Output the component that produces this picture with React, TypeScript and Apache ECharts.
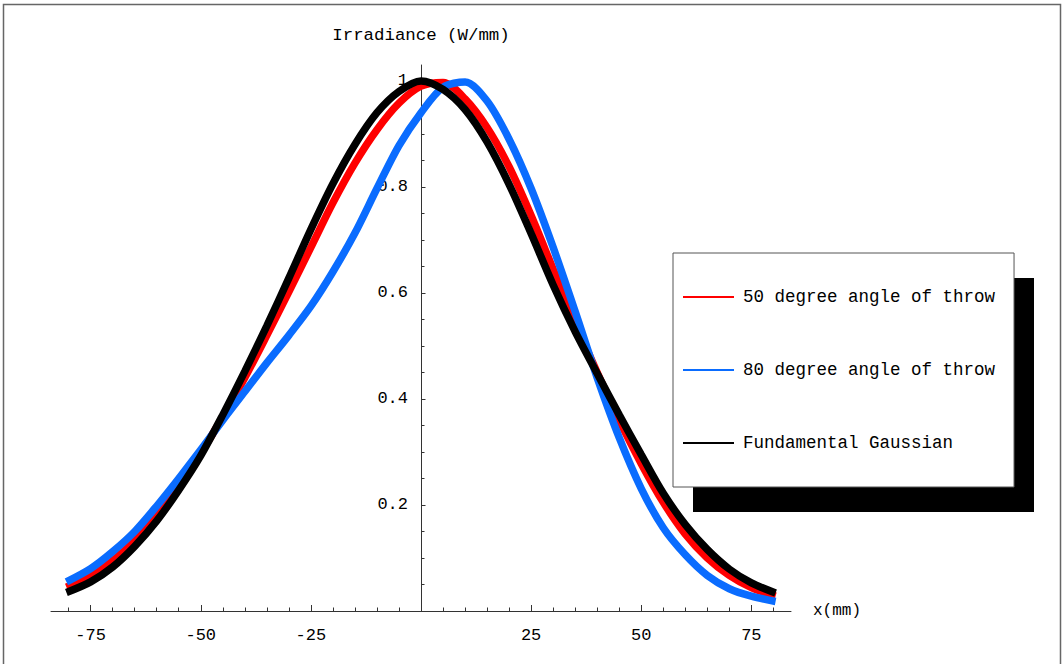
import React, { useEffect, useRef } from "react";
import * as echarts from "echarts";

// ---- data ----
const xs = [-80.5, -75, -70, -65, -60, -55, -50, -45, -40, -35, -30, -25, -20, -15, -10, -5, 0, 5, 10, 15, 20, 25, 30, 35, 40, 45, 50, 55, 60, 65, 70, 75, 80.5];
const yBlack = [0.035, 0.055, 0.083, 0.122, 0.17, 0.228, 0.293, 0.37, 0.452, 0.538, 0.628, 0.72, 0.806, 0.88, 0.94, 0.98, 1.0, 0.984, 0.946, 0.885, 0.805, 0.712, 0.615, 0.527, 0.448, 0.37, 0.295, 0.222, 0.163, 0.116, 0.079, 0.053, 0.034];
const yRed = [0.045, 0.066, 0.095, 0.133, 0.18, 0.236, 0.298, 0.366, 0.44, 0.52, 0.602, 0.686, 0.77, 0.845, 0.908, 0.958, 0.99, 0.997, 0.966, 0.912, 0.838, 0.746, 0.645, 0.545, 0.45, 0.36, 0.278, 0.205, 0.145, 0.1, 0.067, 0.044, 0.028];
const yBlue = [0.055, 0.08, 0.112, 0.15, 0.198, 0.25, 0.304, 0.36, 0.414, 0.468, 0.52, 0.575, 0.64, 0.713, 0.797, 0.878, 0.94, 0.988, 0.998, 0.962, 0.89, 0.797, 0.686, 0.565, 0.44, 0.327, 0.231, 0.157, 0.106, 0.067, 0.042, 0.028, 0.018];

const seriesNames = ["50 degree angle of throw", "80 degree angle of throw", "Fundamental Gaussian"];
const xTickLabels = [-75, -50, -25, 25, 50, 75];
const xMinorTicks = [-80, -70, -65, -60, -55, -45, -40, -35, -30, -20, -15, -10, -5, 5, 10, 15, 20, 30, 35, 40, 45, 55, 60, 65, 70, 80];
const yTickLabels = [0.2, 0.4, 0.6, 0.8, 1];
const yMinorTicks = [0.05, 0.1, 0.15, 0.25, 0.3, 0.35, 0.45, 0.5, 0.55, 0.65, 0.7, 0.75, 0.85, 0.9, 0.95];

const MONO = "'Liberation Mono', 'DejaVu Sans Mono', monospace";

const pairs = (x: number[], y: number[]) => x.map((v, i) => [v, y[i]]);

export default function App() {
  const ref = useRef<HTMLDivElement>(null);
  useEffect(() => {
    if (!ref.current) return;
    const chart = echarts.init(ref.current, null, { renderer: "svg" });
    const XMIN = -84, XMAX = 84, YMAX = 1.03;
    const axisColor = "#333";
    const yOffset = -370; // places the y axis at x = 0
    const lineW = 7.5;
    chart.setOption({
      animation: false,
      backgroundColor: "#fff",
      grid: { left: 51, right: 273, top: 65, bottom: 53, containLabel: false, outerBoundsMode: "none" },
      xAxis: [
        {
          type: "value", min: XMIN, max: XMAX, position: "bottom",
          name: "x(mm)", nameLocation: "end", nameGap: 22,
          nameTextStyle: { fontFamily: MONO, fontSize: 16, color: "#000", verticalAlign: "middle" },
          axisLine: { show: true, onZero: false, lineStyle: { color: axisColor, width: 1 } },
          axisTick: { show: true, inside: true, length: 6, customValues: xTickLabels, lineStyle: { color: axisColor } },
          axisLabel: {
            show: true, customValues: xTickLabels, margin: 16,
            fontFamily: MONO, fontSize: 17, color: "#000",
            formatter: (v: number) => String(v),
          },
          splitLine: { show: false },
        },
        {
          type: "value", min: XMIN, max: XMAX, position: "bottom",
          axisLine: { show: false, onZero: false },
          axisTick: { show: true, inside: true, length: 3.5, customValues: xMinorTicks, lineStyle: { color: axisColor } },
          axisLabel: { show: false },
          splitLine: { show: false },
        },
      ],
      yAxis: [
        {
          type: "value", min: 0, max: YMAX, position: "left", offset: yOffset,
          name: "Irradiance (W/mm)", nameLocation: "end", nameGap: 21,
          nameTextStyle: { fontFamily: MONO, fontSize: 17.4, color: "#000" },
          axisLine: { show: true, onZero: false, lineStyle: { color: axisColor, width: 1 } },
          axisTick: { show: true, inside: true, length: 4.5, customValues: yTickLabels, lineStyle: { color: axisColor } },
          axisLabel: {
            show: true, customValues: yTickLabels, margin: 13,
            fontFamily: MONO, fontSize: 17, color: "#000",
            formatter: (v: number) => (Math.abs(v - 1) < 1e-9 ? "1" : v.toFixed(1)),
          },
          splitLine: { show: false },
        },
        {
          type: "value", min: 0, max: YMAX, position: "left", offset: yOffset,
          axisLine: { show: false, onZero: false },
          axisTick: { show: true, inside: true, length: 3.5, customValues: yMinorTicks, lineStyle: { color: axisColor } },
          axisLabel: { show: false },
          splitLine: { show: false },
        },
      ],
      legend: {
        show: true,
        orient: "vertical",
        left: 673, top: 253,
        data: seriesNames,
        icon: "rect",
        itemWidth: 51, itemHeight: 2,
        itemGap: 53,
        padding: [34, 19, 34, 10],
        backgroundColor: "#fff",
        borderColor: "#555",
        borderWidth: 1,
        borderRadius: 0,
        selectedMode: false,
        textStyle: { fontFamily: MONO, fontSize: 17.5, color: "#000", lineHeight: 20, padding: [0, 0, 0, 4] },
        z: 10,
      },
      graphic: [
        { type: "rect", z: 5, silent: true, shape: { x: 693, y: 278, width: 341, height: 234 }, style: { fill: "#000" } },
        { type: "rect", z: 0, silent: true, shape: { x: 3.5, y: 4.5, width: 1057, height: 700 }, style: { fill: "none", stroke: "#666", lineWidth: 1.5 } },
      ],
      series: [
        {
          name: seriesNames[0], type: "line", xAxisIndex: 0, yAxisIndex: 0,
          data: pairs(xs, yRed), smooth: 0.3, showSymbol: false, symbol: "none",
          color: "#ff0000", lineStyle: { color: "#ff0000", width: lineW, cap: "butt" }, z: 2,
        },
        {
          name: seriesNames[1], type: "line", xAxisIndex: 0, yAxisIndex: 0,
          data: pairs(xs, yBlue), smooth: 0.3, showSymbol: false, symbol: "none",
          color: "#0a6cff", lineStyle: { color: "#0a6cff", width: lineW, cap: "butt" }, z: 3,
        },
        {
          name: seriesNames[2], type: "line", xAxisIndex: 0, yAxisIndex: 0,
          data: pairs(xs, yBlack), smooth: 0.3, showSymbol: false, symbol: "none",
          color: "#000000", lineStyle: { color: "#000000", width: lineW, cap: "butt" }, z: 4,
        },
      ],
    });
    return () => chart.dispose();
  }, []);
  return (
    <div
      ref={ref}
      style={{ position: "absolute", left: 0, top: 0, width: 1064, height: 664, background: "#fff" }}
    />
  );
}
